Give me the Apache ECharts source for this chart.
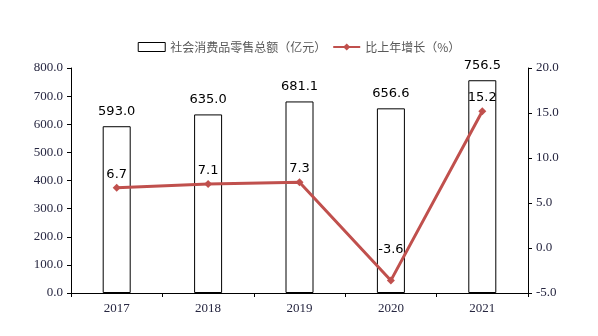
<!DOCTYPE html>
<html><head><meta charset="utf-8">
<script src="https://cdn.jsdelivr.net/npm/echarts@6/dist/echarts.min.js"></script>
<style>html,body{margin:0;padding:0;background:#fff}#c{width:598px;height:336px}</style>
</head><body><div id="c"></div>
<script>
const categories = ['2017','2018','2019','2020','2021'];
const salesValues = [593.0, 635.0, 681.1, 656.6, 756.5];
const growthValues = [6.7, 7.1, 7.3, -3.6, 15.2];
const salesName = '社会消费品零售总额（亿元）';
const growthName = '比上年增长（%）';

const chart = echarts.init(document.getElementById('c'), null, {renderer:'canvas'});
const axisFont = {fontFamily:'"Liberation Serif","DejaVu Serif",serif', fontSize:13, color:'#262640'};
chart.setOption({
  animation:false,
  legend:{
    top:36, left:'center', itemGap:6, itemWidth:27, itemHeight:9,
    textStyle:{fontFamily:'"Noto Sans CJK SC",sans-serif', fontSize:12, color:'#595959'},
    data:[
      {name:salesName, icon:'rect', itemStyle:{color:'#fff', borderColor:'#000', borderWidth:1}},
      {name:growthName}
    ]
  },
  grid:{left:71, right:70, top:68, bottom:43},
  xAxis:{
    type:'category', data:categories,
    axisLine:{lineStyle:{color:'#000', width:1}},
    axisTick:{show:true, alignWithLabel:false, length:4, lineStyle:{color:'#000'}},
    axisLabel:Object.assign({margin:9}, axisFont)
  },
  yAxis:[
    {type:'value', min:0, max:800, interval:100, splitLine:{show:false},
     axisLine:{show:true, lineStyle:{color:'#000'}},
     axisTick:{show:true, length:4, lineStyle:{color:'#000'}},
     axisLabel:Object.assign({margin:8, formatter:v=>v.toFixed(1)}, axisFont)},
    {type:'value', min:-5, max:20, interval:5, splitLine:{show:false},
     axisLine:{show:true, lineStyle:{color:'#000'}},
     axisTick:{show:true, length:4, lineStyle:{color:'#000'}},
     axisLabel:Object.assign({margin:8, formatter:v=>v.toFixed(1)}, axisFont)}
  ],
  series:[
    {name:salesName, type:'bar', yAxisIndex:0, data:salesValues, barWidth:28,
     itemStyle:{color:'#fff', borderColor:'#000', borderWidth:1},
     label:{show:true, position:'top', distance:8, formatter:p=>p.value.toFixed(1),
       fontFamily:'"DejaVu Sans",sans-serif', fontSize:13, color:'#000'}},
    {name:growthName, type:'line', yAxisIndex:1,
     data:growthValues.map((v,i)=> i===3 ? {value:v, label:{distance:20}} : v),
     symbol:'diamond', symbolSize:8, showAllSymbol:true,
     lineStyle:{color:'#c0504d', width:3}, itemStyle:{color:'#c0504d'},
     label:{show:true, position:'top', distance:3, formatter:p=>p.value.toFixed(1),
       fontFamily:'"DejaVu Sans",sans-serif', fontSize:13, color:'#000'}}
  ]
});
</script></body></html>
